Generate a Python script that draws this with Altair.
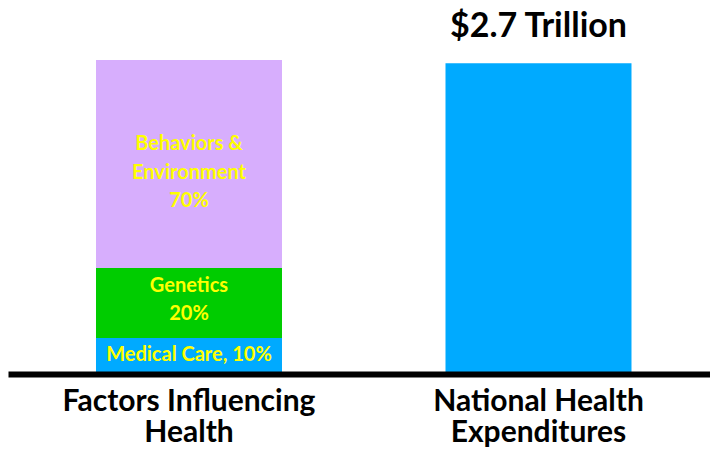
import altair as alt
import pandas as pd

# ---- data ----
groups = ["Factors Influencing\nHealth", "National Health\nExpenditures"]
segments = ["Medical Care", "Genetics", "Behaviors & Environment", "Expenditures"]
seg_group = [groups[0], groups[0], groups[0], groups[1]]
seg_values = [11.5, 22.3, 66.2, 99.0]          # bar heights (share of left bar)
seg_colors = ["#00AAFF", "#00CC00", "#D7AEFD", "#00AAFF"]
seg_labels = ["Medical Care, 10%", "Genetics\n20%", "Behaviors &\nEnvironment\n70%", ""]
total_label = "$2.7 Trillion"

FONT = "Lato"
Y_MAX = 116.6

rows = []
cum = {g: 0.0 for g in groups}
for s, g, v, lab in zip(segments, seg_group, seg_values, seg_labels):
    start = cum[g]
    end = start + v
    cum[g] = end
    rows.append({"group": g, "segment": s, "start": start, "end": end,
                 "mid": (start + end) / 2, "label": lab})
df = pd.DataFrame(rows)

xenc = alt.X(
    "group:N", sort=groups,
    scale=alt.Scale(paddingInner=0.4678, paddingOuter=0.2382, align=0.5285),
    axis=alt.Axis(
        title=None, ticks=False, grid=False, labelAngle=0,
        domain=True, domainColor="black", domainWidth=6, zindex=1,
        labelFont=FONT, labelFontSize=30, labelFontWeight="bold", labelColor="black",
        labelPadding=36, labelBaseline="alphabetic", labelLineHeight=31,
        labelLimit=0, labelExpr="split(datum.label, '\\n')",
    ),
)
yscale = alt.Scale(domain=[0, Y_MAX], nice=False, zero=True)

bars = alt.Chart(df).mark_bar().encode(
    x=xenc,
    y=alt.Y("start:Q", scale=yscale, axis=None),
    y2="end:Q",
    color=alt.Color("segment:N", scale=alt.Scale(domain=segments, range=seg_colors), legend=None),
)


def seg_text(segment, dy):
    return alt.Chart(df).mark_text(
        font=FONT, fontSize=20, fontWeight="bold", color="#FFFF00",
        baseline="middle", align="center", lineBreak="\n", lineHeight=28.5, dy=dy,
    ).encode(
        x=alt.X("group:N", sort=groups),
        y=alt.Y("mid:Q", scale=yscale),
        text="label:N",
    ).transform_filter(alt.datum.segment == segment)


t_med = seg_text("Medical Care", -1)
t_gen = seg_text("Genetics", -17)
t_beh = seg_text("Behaviors & Environment", -20)

title_df = pd.DataFrame({"group": [groups[1]], "value": [seg_values[3]], "label": [total_label]})
title = alt.Chart(title_df).mark_text(
    font=FONT, fontSize=34, fontWeight="bold", color="black",
    baseline="alphabetic", align="center", dy=-26,
).encode(
    x=alt.X("group:N", sort=groups),
    y=alt.Y("value:Q", scale=yscale),
    text="label:N",
)

chart = alt.layer(bars, t_med, t_gen, t_beh, title).properties(
    width=702, height=366,
    autosize=alt.AutoSizeParams(type="none"),
    padding={"left": 0, "top": 0, "right": 0, "bottom": 74},
    background="white",
).configure_view(stroke=None)

chart.save("out.html", embed_options={"renderer": "svg", "actions": False})
